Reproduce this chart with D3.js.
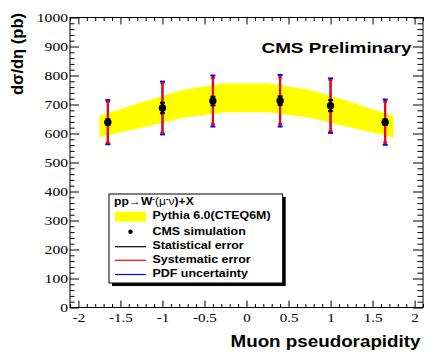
<!DOCTYPE html>
<html>
<head>
<meta charset="utf-8">
<script src="https://cdn.jsdelivr.net/npm/d3@7"></script>
<style>
  html, body { margin: 0; padding: 0; background: #fff; }
  svg { display: block; }
  .bold { font-family: "Liberation Sans", Arial, sans-serif; font-weight: bold; fill: #000; }
</style>
</head>
<body>
<div id="chart"></div>
<script>
// W- muon pseudorapidity cross-section (CMS preliminary style)

// data points
const etaBins = [-1.65, -1.0, -0.4, 0.4, 1.0, 1.65];
const xsec    = [639, 688, 712, 713, 696, 639];
const statErr = [10, 18, 15, 15, 19, 10];
const sysErr  = [70, 85, 80, 80, 88, 70];
const pdfErr  = [76, 91, 88, 89, 94, 78];

// Pythia prediction band
const bandEta  = [-1.75, -1.25, -0.75, -0.25, 0.25, 0.75, 1.25, 1.75];
const bandHigh = [660, 708, 751, 773, 773, 751, 708, 660];
const bandLow  = [587, 620, 654, 673, 673, 654, 620, 587];

// axis ticks
const xTicks = [-2, -1.5, -1, -0.5, 0, 0.5, 1, 1.5, 2];
const yTicks = [0, 100, 200, 300, 400, 500, 600, 700, 800, 900, 1000];

const W = 436, H = 354;
const frame = { left: 70, right: 423, top: 17.5, bottom: 307.5 };

const svg = d3.select("#chart").append("svg")
    .attr("width", W)
    .attr("height", H);

const x = d3.scaleLinear().domain([-2.1, 2.1]).range([frame.left, frame.right]);
const y = d3.scaleLinear().domain([0, 1000]).range([frame.bottom, frame.top]);

// stretch text horizontally (the original is a bit wide)
function stretch(sel, k) {
    sel.each(function () {
        const w = this.getComputedTextLength();
        d3.select(this).attr("textLength", w * k).attr("lengthAdjust", "spacingAndGlyphs");
    });
}

// minor tick values
const xMinor = d3.range(-21, 22).map(i => i / 10).filter(v => Math.abs(v * 2 - Math.round(v * 2)) > 1e-6);
const yMinor = d3.range(0, 1001, 20).filter(v => v % 100 !== 0);

// band
const band = bandEta.map((e, i) => ({ e, hi: bandHigh[i], lo: bandLow[i] }));
svg.append("path")
    .datum(band)
    .attr("fill", "#ffff00")
    .attr("d", d3.area().x(d => x(d.e)).y0(d => y(d.lo)).y1(d => y(d.hi)));

// axes
function addAxis(axis, tx, ty, labels) {
    const g = svg.append("g").attr("transform", `translate(${tx},${ty})`).call(axis);
    g.select(".domain").remove();
    g.selectAll(".tick line").attr("stroke", "#000").attr("stroke-width", 1);
    if (!labels) g.selectAll(".tick text").remove();
    else g.selectAll(".tick text")
        .style("font-family", '"Liberation Serif", "Times New Roman", serif')
        .style("font-size", "12.5px")
        .attr("fill", "#000");
    return g;
}

const plain = d => String(d);

const xb = addAxis(d3.axisBottom(x).tickValues(xTicks).tickSize(-7).tickPadding(5.5).tickFormat(plain), 0, frame.bottom, true);
stretch(xb.selectAll(".tick text"), 1.2);
addAxis(d3.axisBottom(x).tickValues(xMinor).tickSize(-3.5).tickFormat(""), 0, frame.bottom, false);
addAxis(d3.axisTop(x).tickValues(xTicks).tickSize(-7).tickFormat(""), 0, frame.top, false);
addAxis(d3.axisTop(x).tickValues(xMinor).tickSize(-3.5).tickFormat(""), 0, frame.top, false);

const yl = addAxis(d3.axisLeft(y).tickValues(yTicks).tickSize(-9).tickPadding(2).tickFormat(plain), frame.left, 0, true);
stretch(yl.selectAll(".tick text"), 1.25);
addAxis(d3.axisLeft(y).tickValues(yMinor).tickSize(-4.5).tickFormat(""), frame.left, 0, false);
addAxis(d3.axisRight(y).tickValues(yTicks).tickSize(-10).tickFormat(""), frame.right, 0, false);
addAxis(d3.axisRight(y).tickValues(yMinor).tickSize(-5.5).tickFormat(""), frame.right, 0, false);

// frame
svg.append("rect")
    .attr("x", frame.left).attr("y", frame.top)
    .attr("width", frame.right - frame.left).attr("height", frame.bottom - frame.top)
    .attr("fill", "none").attr("stroke", "#000").attr("stroke-width", 1);

// error bars
const pts = etaBins.map((e, i) => ({ e, v: xsec[i], stat: statErr[i], sys: sysErr[i], pdf: pdfErr[i] }));

function errBar(key, color, lw, cap) {
    const g = svg.append("g");
    pts.forEach(d => {
        const cx = x(d.e), y1 = y(d.v + d[key]), y2 = y(d.v - d[key]);
        g.append("line").attr("x1", cx).attr("x2", cx).attr("y1", y1).attr("y2", y2)
            .attr("stroke", color).attr("stroke-width", lw);
        [y1, y2].forEach(yy => {
            g.append("line").attr("x1", cx - cap).attr("x2", cx + cap).attr("y1", yy).attr("y2", yy)
                .attr("stroke", color).attr("stroke-width", 2);
        });
    });
}
errBar("pdf", "#0000ff", 2, 2.5);
errBar("sys", "#ff0000", 2, 2);
errBar("stat", "#000000", 1.5, 2.5);

svg.append("g").selectAll("circle")
    .data(pts)
    .enter()
    .append("circle")
    .attr("cx", d => x(d.e))
    .attr("cy", d => y(d.v))
    .attr("r", 3.7)
    .attr("fill", "#000");

// texts
svg.append("text").attr("class", "bold")
    .attr("x", 411.5).attr("y", 53.3)
    .attr("text-anchor", "end")
    .style("font-size", "15px")
    .attr("textLength", 150).attr("lengthAdjust", "spacingAndGlyphs")
    .text("CMS Preliminary");

svg.append("text").attr("class", "bold")
    .attr("x", 420.5).attr("y", 347.3)
    .attr("text-anchor", "end")
    .style("font-size", "16.3px")
    .attr("textLength", 190).attr("lengthAdjust", "spacingAndGlyphs")
    .text("Muon pseudorapidity");

svg.append("text").attr("class", "bold")
    .attr("transform", "translate(22.5,95) rotate(-90)")
    .attr("text-anchor", "start")
    .style("font-size", "17px")
    .attr("textLength", 82).attr("lengthAdjust", "spacingAndGlyphs")
    .text("dσ/dη (pb)");

// legend
const lg = { x: 109, y: 194, w: 173.7, h: 89 };
svg.append("rect").attr("x", lg.x + 3).attr("y", lg.y + 3).attr("width", lg.w).attr("height", lg.h).attr("fill", "#000");
svg.append("rect").attr("x", lg.x).attr("y", lg.y).attr("width", lg.w).attr("height", lg.h)
    .attr("fill", "#fff").attr("stroke", "#000").attr("stroke-width", 1);

const header = svg.append("text").attr("class", "bold")
    .attr("x", 114).attr("y", 205)
    .style("font-size", "11px");
header.append("tspan").text("pp");
header.append("tspan").style("font-weight", "normal").text("→");
header.append("tspan").text("W");
header.append("tspan").attr("dy", -4).style("font-size", "7px").text("-");
header.append("tspan").attr("dy", 4).style("font-weight", "normal").text("(μ");
header.append("tspan").attr("dy", -4).style("font-size", "7px").text("-");
header.append("tspan").attr("dy", 4).style("font-weight", "normal").text("ν");
header.append("tspan").text(")+X");
stretch(header, 1.1);

svg.append("rect").attr("x", 115).attr("y", 211.7).attr("width", 31).attr("height", 10).attr("fill", "#ffff00");
svg.append("circle").attr("cx", 130.5).attr("cy", 231.7).attr("r", 2.2).attr("fill", "#000");

const legLines = [
    { y: 246.7, color: "#000000" },
    { y: 260.3, color: "#ff0000" },
    { y: 274.5, color: "#0000ff" }
];
legLines.forEach(l => {
    svg.append("line").attr("x1", 115).attr("x2", 146).attr("y1", l.y).attr("y2", l.y)
        .attr("stroke", l.color).attr("stroke-width", 1.2);
});

const legLabels = [
    { t: "Pythia 6.0(CTEQ6M)", y: 219.3 },
    { t: "CMS simulation", y: 235 },
    { t: "Statistical error", y: 249.3 },
    { t: "Systematic error", y: 263.3 },
    { t: "PDF uncertainty", y: 277.3 }
];
const lt = svg.append("g").selectAll("text")
    .data(legLabels)
    .enter()
    .append("text")
    .attr("class", "bold")
    .attr("x", 152.5)
    .attr("y", d => d.y)
    .style("font-size", "11px")
    .text(d => d.t);
stretch(lt, 1.13);
</script>
</body>
</html>
